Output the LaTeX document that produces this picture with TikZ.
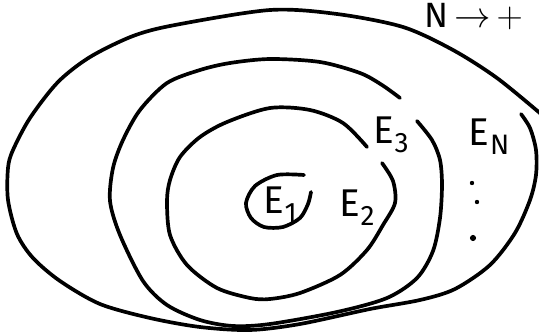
\documentclass[tikz,border=0pt]{standalone}
\usepackage{fontspec}
\setsansfont{Fira Sans}
\usepackage{tikz}

\newcommand{\setname}[1]{E\kern0.3pt\raisebox{-0.45ex}{\fontsize{16}{18}\selectfont #1}}

\begin{document}
\begin{tikzpicture}[x=0.02cm, y=-0.02cm,
  ring/.style={line width=2.1pt, line cap=round, line join=round},
  setlabel/.style={font=\sffamily\fontsize{22}{26}\selectfont, inner sep=0pt},
  dot/.style={circle, fill, inner sep=0pt}]
  \useasboundingbox (0,0) rectangle (539,335);

  % E_N
  \draw [ring] plot[smooth] coordinates {(521,114) (530,128) (536,150) (536,175) (530,200)
    (515,233) (490,265) (455,289) (420,300) (370,309) (300,324) (250,330) (200,327)
    (150,318) (100,304) (60,281) (33,258) (17,234) (8,200) (8,168) (13,150) (30,118)
    (58,82) (90,57) (133,36) (175,25) (270,10) (337,14) (403,27) (453,50) (497,78) (541,114)};
  % E_3
  \draw [ring] plot[smooth] coordinates {(400,98) (382,85) (360,73) (320,62) (270,59)
    (230,63) (200,70) (167,83) (140,110) (123,140) (113,168) (110,201) (120,235)
    (143,281) (167,305) (200,320) (233,326) (270,324) (337,312) (387,298) (417,278)
    (433,251) (440,218) (442,185) (440,160) (432,140) (417,121)};
  % E_2
  \draw [ring] plot[smooth] coordinates {(367,147) (343,123) (310,110) (270,108) (227,122)
    (200,137) (180,157) (170,180) (167,201) (170,235) (187,265) (217,288) (250,298)
    (270,299) (300,293) (340,275) (367,250) (383,225) (395,203) (393,181) (382,163)};
  % E_1
  \draw [ring] plot[smooth] coordinates {(304,175) (277,175) (255,186) (246,203) (251,218)
    (264,227) (283,227) (300,218) (308,204) (311,192)};

  \node (e1) [setlabel] at (280,205) {\setname{1}};
  \node (e2) [setlabel] at (357,208) {\setname{2}};
  \node (e3) [setlabel] at (391,135) {\setname{3}};
  \node (en) [setlabel] at (489,137) {\setname{N}};
  \node (lim) [setlabel, anchor=base west, font=\sffamily\fontsize{20}{24}\selectfont] at (424,27) {N\,$\rightarrow$\,$+$};

  \node (d1) [dot, minimum size=2.5pt] at (472,183) {};
  \node (d2) [dot, minimum size=2.5pt] at (477,202) {};
  \node (d3) [dot, minimum size=3.5pt] at (473,238) {};
\end{tikzpicture}
\end{document}
